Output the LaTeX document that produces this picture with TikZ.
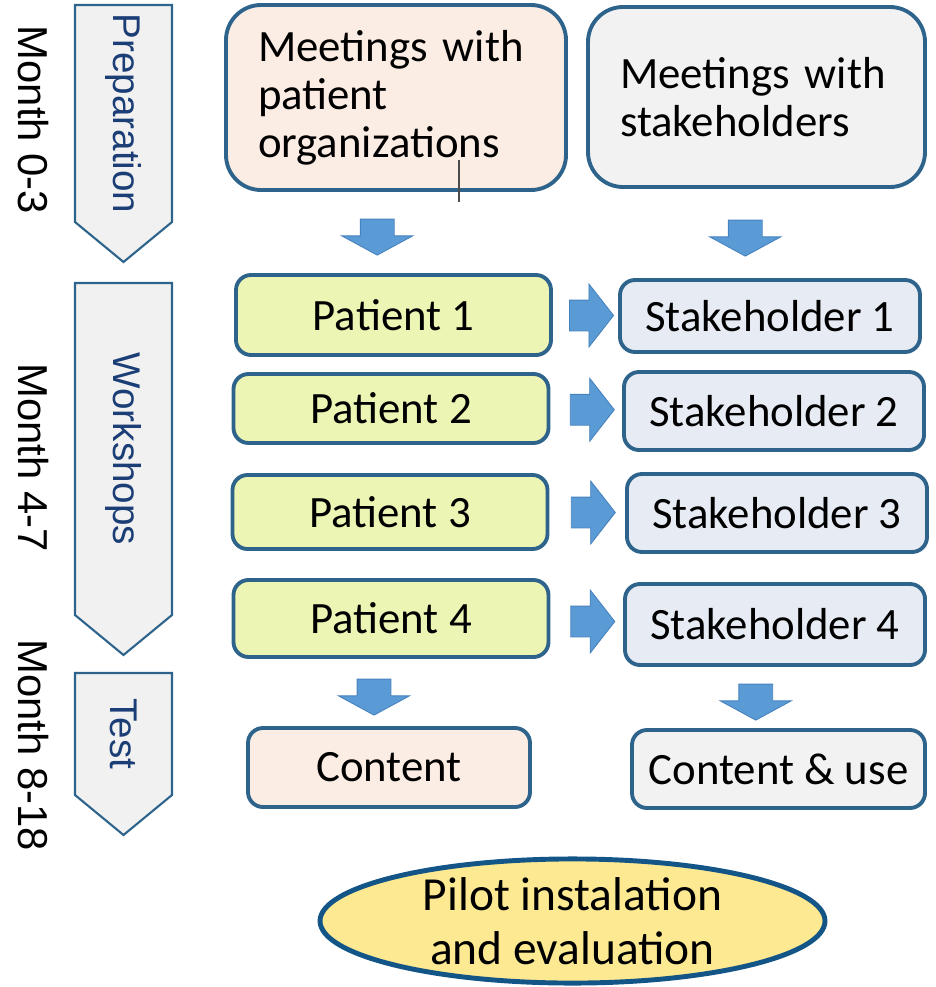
\documentclass[tikz,border=0pt]{standalone}
\usepackage{fontspec}
\setmainfont{Carlito}
\newfontfamily\sidefont{Liberation Sans}
\usetikzlibrary{calc, shapes.arrows, shapes.symbols, shapes.geometric}

\definecolor{boxline}{RGB}{46,100,140}
\definecolor{peachfill}{RGB}{252,237,228}
\definecolor{greyfill}{RGB}{242,242,242}
\definecolor{patfill}{RGB}{236,245,180}
\definecolor{stkfill}{RGB}{231,236,244}
\definecolor{phasefill}{RGB}{241,241,241}
\definecolor{phasetext}{RGB}{28,62,118}
\definecolor{arrowblue}{RGB}{91,155,213}
\definecolor{arrowedge}{RGB}{70,130,190}
\definecolor{pilotfill}{RGB}{252,233,146}
\definecolor{pilotline}{RGB}{20,85,135}

\tikzset{
  box/.style={draw=boxline, line width=2.2pt, rounded corners=0.3cm, font=\fontsize{25.5}{27.2}\selectfont},
  meetbox/.style={box, rounded corners=0.7cm, align=left, inner xsep=0.64cm, minimum height=3.65cm},
  patbox/.style={box, fill=patfill, minimum width=6.3cm, minimum height=1.5cm},
  stkbox/.style={box, fill=stkfill, minimum width=6cm, minimum height=1.52cm},
  phase/.style={signal, signal to=east, signal pointer angle=101, rotate=-90, draw=boxline, line width=1.2pt,
    fill=phasefill, text=phasetext, minimum height=1.94cm, font=\sidefont\fontsize{22}{24}\selectfont},
  month/.style={rotate=-90, font=\sidefont\fontsize{23.8}{26}\selectfont},
  downarr/.style={single arrow, rotate=-90, fill=arrowblue, draw=arrowedge, line width=0.5pt, inner xsep=0pt,
    inner ysep=0.33cm, single arrow head extend=0.37cm, single arrow tip angle=123, minimum height=0.72cm},
  rightarr/.style={single arrow, fill=arrowblue, draw=arrowedge, line width=0.5pt, inner xsep=0pt,
    inner ysep=0.3cm, single arrow head extend=0.32cm, single arrow tip angle=104, minimum height=0.88cm},
}

\begin{document}
\begin{tikzpicture}
    \useasboundingbox (0,0) rectangle (18.7,-19.74);

    % phases on the left
    \node[phase, minimum width=5.14cm] (prep) at (2.47,-2.27) {Preparation};
    \node[phase, minimum width=7.44cm] (work) at (2.47,-8.98) {Workshops};
    \node[phase, minimum width=3.24cm] (test) at (2.47,-14.68) {Test};

    \node[month] (m1) at (0.66,-2.4) {Month 0-3};
    \node[month] (m2) at (0.66,-9.15) {Month 4-7};
    \node[month] (m3) at (0.66,-14.9) {Month 8-18};

    % meetings
    \node[meetbox, fill=peachfill, text width=5.52cm, minimum height=3.7cm] (meetPat) at (7.92,-1.95) {Meetings with\\patient\\organizations};
    \node[meetbox, fill=greyfill, text width=5.46cm, minimum height=3.6cm] (meetStk) at (15.13,-1.94) {Meetings with\\stakeholders};
    \draw[black!70, line width=0.8pt] (9.18,-3.2) -- (9.18,-4.04);

    % workshops
    \node[patbox, minimum height=1.6cm] (pat1) at (7.87,-6.3) {Patient 1};
    \node[patbox, minimum height=1.38cm] (pat2) at (7.82,-8.17) {Patient 2};
    \node[patbox, minimum height=1.48cm] (pat3) at (7.8,-10.24) {Patient 3};
    \node[patbox, minimum height=1.54cm] (pat4) at (7.82,-12.37) {Patient 4};

    \node[stkbox, minimum height=1.44cm] (stk1) at (15.4,-6.32) {Stakeholder 1};
    \node[stkbox, minimum height=1.56cm] (stk2) at (15.48,-8.22) {Stakeholder 2};
    \node[stkbox, minimum height=1.56cm] (stk3) at (15.54,-10.26) {Stakeholder 3};
    \node[stkbox, minimum height=1.62cm] (stk4) at (15.5,-12.49) {Stakeholder 4};

    % test
    \node[box, fill=peachfill, minimum width=5.64cm, minimum height=1.58cm] (content) at (7.78,-15.35) {Content};
    \node[box, fill=greyfill, minimum width=5.86cm, minimum height=1.56cm] (contentUse) at (15.57,-15.38) {Content \& use};

    \node[ellipse, draw=pilotline, line width=2.8pt, fill=pilotfill, inner sep=0pt, minimum width=10.1cm,
      minimum height=2.36cm, align=center, font=\fontsize{27}{31}\selectfont] (pilot) at (11.45,-18.42) {Pilot instalation\\and evaluation};

    % block arrows
    \node[downarr] (d1) at ($(meetPat.south)!0.5!(pat1.north)+(-0.35,0)$) {};
    \node[downarr] (d2) at ($(meetStk.south)!0.5!(stk1.north)+(-0.36,0)$) {};
    \node[downarr] (d3) at ($(pat4.south)!0.5!(content.north)+(-0.32,0)$) {};
    \node[downarr] (d4) at ($(stk4.south)!0.5!(contentUse.north)+(-0.42,0)$) {};
    \foreach \i in {1,...,4}
        \node[rightarr] (r\i) at ($(pat\i.east)!0.5!(stk\i.west)$) {};
\end{tikzpicture}
\end{document}
